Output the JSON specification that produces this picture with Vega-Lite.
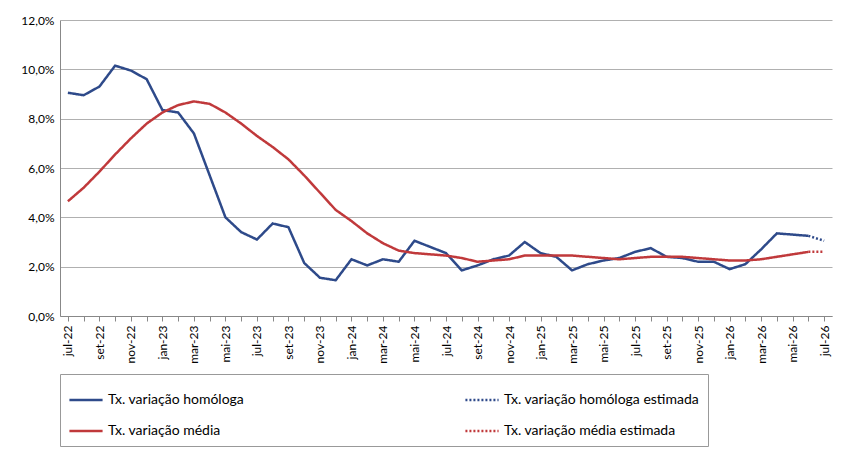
{
  "$schema": "https://vega.github.io/schema/vega-lite/v6.json",
  "width": 772,
  "height": 296,
  "padding": {"left": 20, "top": 14, "right": 10, "bottom": 5},
  "config": {
    "font": "Lato",
    "view": {"stroke": null},
    "axis": {"labelFont": "Lato", "labelColor": "#000", "labelFontSize": 12, "domainColor": "#888", "tickColor": "#888"}
  },
  "data": {"values": [
    {"i":0,"s":"Tx. variação homóloga","v":9.05},{"i":1,"s":"Tx. variação homóloga","v":8.95},{"i":2,"s":"Tx. variação homóloga","v":9.3},{"i":3,"s":"Tx. variação homóloga","v":10.15},{"i":4,"s":"Tx. variação homóloga","v":9.95},{"i":5,"s":"Tx. variação homóloga","v":9.6},
    {"i":6,"s":"Tx. variação homóloga","v":8.35},{"i":7,"s":"Tx. variação homóloga","v":8.25},{"i":8,"s":"Tx. variação homóloga","v":7.4},{"i":9,"s":"Tx. variação homóloga","v":5.7},{"i":10,"s":"Tx. variação homóloga","v":4.0},{"i":11,"s":"Tx. variação homóloga","v":3.4},
    {"i":12,"s":"Tx. variação homóloga","v":3.1},{"i":13,"s":"Tx. variação homóloga","v":3.75},{"i":14,"s":"Tx. variação homóloga","v":3.6},{"i":15,"s":"Tx. variação homóloga","v":2.15},{"i":16,"s":"Tx. variação homóloga","v":1.55},{"i":17,"s":"Tx. variação homóloga","v":1.45},
    {"i":18,"s":"Tx. variação homóloga","v":2.3},{"i":19,"s":"Tx. variação homóloga","v":2.05},{"i":20,"s":"Tx. variação homóloga","v":2.3},{"i":21,"s":"Tx. variação homóloga","v":2.2},{"i":22,"s":"Tx. variação homóloga","v":3.05},{"i":23,"s":"Tx. variação homóloga","v":2.8},
    {"i":24,"s":"Tx. variação homóloga","v":2.55},{"i":25,"s":"Tx. variação homóloga","v":1.85},{"i":26,"s":"Tx. variação homóloga","v":2.05},{"i":27,"s":"Tx. variação homóloga","v":2.3},{"i":28,"s":"Tx. variação homóloga","v":2.45},{"i":29,"s":"Tx. variação homóloga","v":3.0},
    {"i":30,"s":"Tx. variação homóloga","v":2.55},{"i":31,"s":"Tx. variação homóloga","v":2.4},{"i":32,"s":"Tx. variação homóloga","v":1.85},{"i":33,"s":"Tx. variação homóloga","v":2.1},{"i":34,"s":"Tx. variação homóloga","v":2.25},{"i":35,"s":"Tx. variação homóloga","v":2.35},
    {"i":36,"s":"Tx. variação homóloga","v":2.6},{"i":37,"s":"Tx. variação homóloga","v":2.75},{"i":38,"s":"Tx. variação homóloga","v":2.4},{"i":39,"s":"Tx. variação homóloga","v":2.35},{"i":40,"s":"Tx. variação homóloga","v":2.2},{"i":41,"s":"Tx. variação homóloga","v":2.2},
    {"i":42,"s":"Tx. variação homóloga","v":1.9},{"i":43,"s":"Tx. variação homóloga","v":2.1},{"i":44,"s":"Tx. variação homóloga","v":2.7},{"i":45,"s":"Tx. variação homóloga","v":3.35},{"i":46,"s":"Tx. variação homóloga","v":3.3},{"i":47,"s":"Tx. variação homóloga","v":3.25},
    {"i":47,"s":"Tx. variação homóloga estimada","v":3.25},{"i":48,"s":"Tx. variação homóloga estimada","v":3.05},
    {"i":0,"s":"Tx. variação média","v":4.65},{"i":1,"s":"Tx. variação média","v":5.2},{"i":2,"s":"Tx. variação média","v":5.85},{"i":3,"s":"Tx. variação média","v":6.55},{"i":4,"s":"Tx. variação média","v":7.2},{"i":5,"s":"Tx. variação média","v":7.8},
    {"i":6,"s":"Tx. variação média","v":8.25},{"i":7,"s":"Tx. variação média","v":8.55},{"i":8,"s":"Tx. variação média","v":8.7},{"i":9,"s":"Tx. variação média","v":8.6},{"i":10,"s":"Tx. variação média","v":8.25},{"i":11,"s":"Tx. variação média","v":7.8},
    {"i":12,"s":"Tx. variação média","v":7.3},{"i":13,"s":"Tx. variação média","v":6.85},{"i":14,"s":"Tx. variação média","v":6.35},{"i":15,"s":"Tx. variação média","v":5.7},{"i":16,"s":"Tx. variação média","v":5.0},{"i":17,"s":"Tx. variação média","v":4.3},
    {"i":18,"s":"Tx. variação média","v":3.85},{"i":19,"s":"Tx. variação média","v":3.35},{"i":20,"s":"Tx. variação média","v":2.95},{"i":21,"s":"Tx. variação média","v":2.65},{"i":22,"s":"Tx. variação média","v":2.55},{"i":23,"s":"Tx. variação média","v":2.5},
    {"i":24,"s":"Tx. variação média","v":2.45},{"i":25,"s":"Tx. variação média","v":2.35},{"i":26,"s":"Tx. variação média","v":2.2},{"i":27,"s":"Tx. variação média","v":2.25},{"i":28,"s":"Tx. variação média","v":2.3},{"i":29,"s":"Tx. variação média","v":2.45},
    {"i":30,"s":"Tx. variação média","v":2.45},{"i":31,"s":"Tx. variação média","v":2.45},{"i":32,"s":"Tx. variação média","v":2.45},{"i":33,"s":"Tx. variação média","v":2.4},{"i":34,"s":"Tx. variação média","v":2.35},{"i":35,"s":"Tx. variação média","v":2.3},
    {"i":36,"s":"Tx. variação média","v":2.35},{"i":37,"s":"Tx. variação média","v":2.4},{"i":38,"s":"Tx. variação média","v":2.4},{"i":39,"s":"Tx. variação média","v":2.4},{"i":40,"s":"Tx. variação média","v":2.35},{"i":41,"s":"Tx. variação média","v":2.3},
    {"i":42,"s":"Tx. variação média","v":2.25},{"i":43,"s":"Tx. variação média","v":2.25},{"i":44,"s":"Tx. variação média","v":2.3},{"i":45,"s":"Tx. variação média","v":2.4},{"i":46,"s":"Tx. variação média","v":2.5},{"i":47,"s":"Tx. variação média","v":2.6},
    {"i":47,"s":"Tx. variação média  estimada","v":2.6},{"i":48,"s":"Tx. variação média  estimada","v":2.6}
  ]},
  "mark": {"type": "line", "strokeWidth": 2.5},
  "encoding": {
    "x": {
      "field": "i", "type": "ordinal", "title": null,
      "scale": {"type": "point", "padding": 0.5},
      "axis": {
        "labelAngle": -90, "labelPadding": 4, "ticks": true, "tickSize": 5,
        "labelExpr": "datum.value % 2 == 0 ? ['jul','ago','set','out','nov','dez','jan','fev','mar','abr','mai','jun'][datum.value % 12] + '-' + (22 + floor((datum.value + 6) / 12)) : ''"
      }
    },
    "y": {
      "field": "v", "type": "quantitative", "title": null,
      "scale": {"domain": [0, 12]},
      "axis": {
        "values": [0, 2, 4, 6, 8, 10, 12], "gridColor": "#b0b0b0", "ticks": false,
        "domain": true, "labelPadding": 6,
        "labelExpr": "replace(format(datum.value, '.1f'), '.', ',') + '%'"
      }
    },
    "color": {
      "field": "s", "type": "nominal",
      "scale": {
        "domain": ["Tx. variação homóloga", "Tx. variação homóloga estimada", "Tx. variação média", "Tx. variação média  estimada"],
        "range": ["#2e4a8a", "#2e4a8a", "#c0393b", "#c0393b"]
      },
      "legend": {
        "title": null, "orient": "bottom", "columns": 2, "direction": "horizontal",
        "columnPadding": 215, "rowPadding": 6, "symbolType": "stroke", "symbolSize": 1100, "symbolStrokeWidth": 2.5,
        "labelFont": "Lato", "labelFontSize": 14, "labelColor": "#000", "labelLimit": 400,
        "strokeColor": "#999", "padding": 8, "offset": 10
      }
    },
    "strokeDash": {
      "field": "s", "type": "nominal",
      "scale": {
        "domain": ["Tx. variação homóloga", "Tx. variação homóloga estimada", "Tx. variação média", "Tx. variação média  estimada"],
        "range": [[1, 0], [2, 2], [1, 0], [2, 2]]
      },
      "legend": null
    }
  }
}
